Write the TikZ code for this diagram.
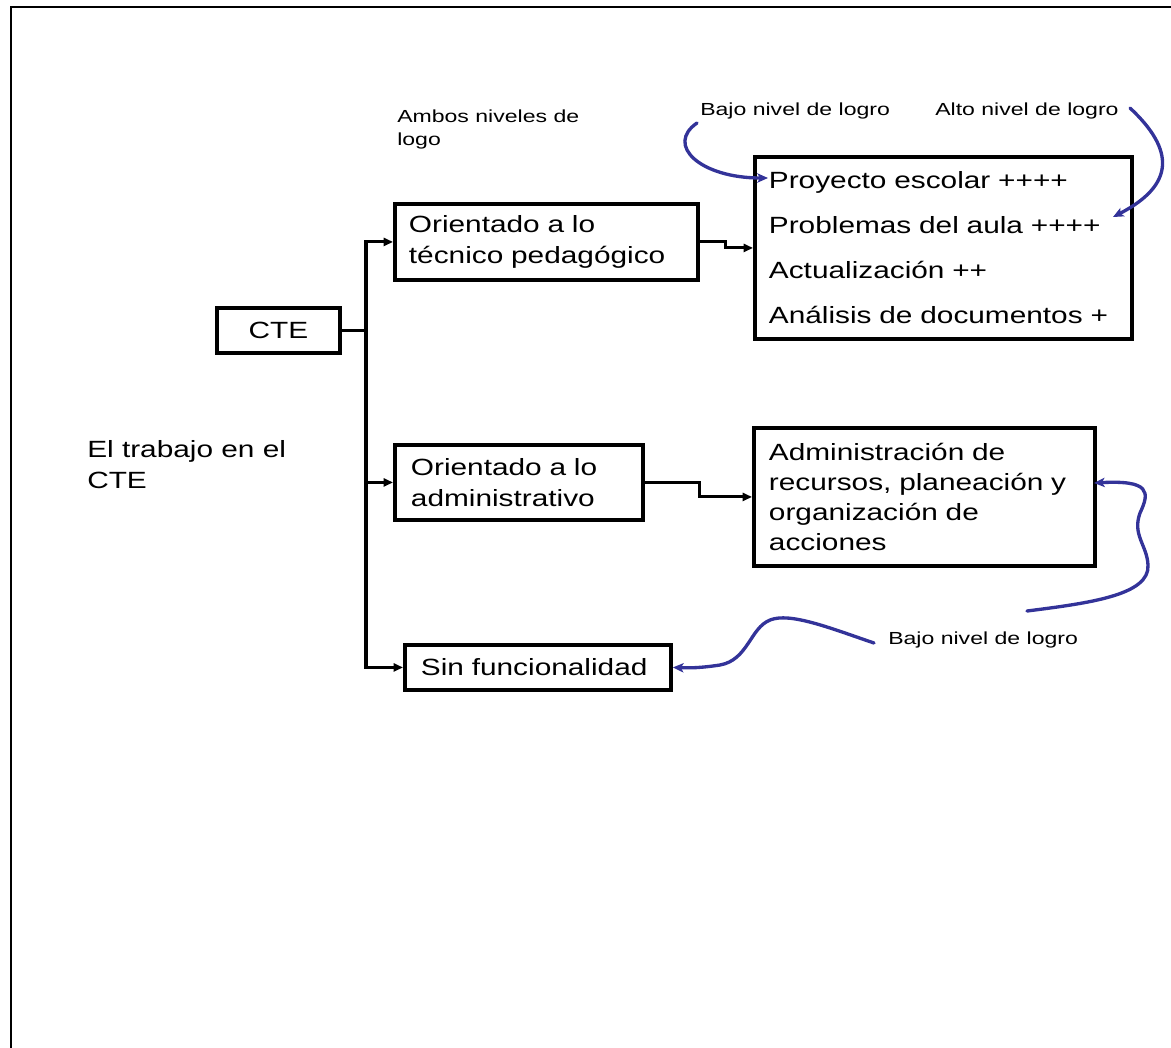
\documentclass[tikz,border=0pt]{standalone}
\usepackage{fontspec}
\setmainfont{Liberation Sans}[FakeStretch=1.27]
\newfontfamily\notefont{Liberation Sans}[FakeStretch=1.32]
\usetikzlibrary{arrows.meta}
\definecolor{note}{RGB}{51,51,153}

\begin{document}
\begin{tikzpicture}[x=0.75pt,y=-0.75pt,
  big/.style={font=\fontsize{17.6pt}{23.25pt}\selectfont},
  small/.style={font=\notefont\fontsize{13.1pt}{17pt}\selectfont},
  box/.style={draw, line width=2.9pt, inner sep=0pt, anchor=north west, align=left, big},
  conn/.style={line width=2.3pt, line join=miter},
  tip/.style={-{Triangle[length=7pt,width=6pt]}},
  note arrow/.style={draw=note, line width=2.5pt, line cap=round,
    -{Stealth[length=8pt,width=7pt,inset=2pt]}}]

\useasboundingbox (0,0) rectangle (1171,1047);
\clip (0,0) rectangle (1171,1047);

% page frame, open to the right and bottom
\draw[line width=2pt] (1180,7) -| (11,1060);

% boxes
\node[box, align=center, minimum width=92.25pt, minimum height=33.75pt] (cte) at (215,306) {CTE};
\node[box, minimum width=227.25pt, minimum height=57pt, text width=206.25pt] (tech) at (393,202)
  {Orientado a lo\\técnico pedagógico};
\node[box, minimum width=282.75pt, minimum height=136.5pt, text width=261.75pt,
  font=\fontsize{17.6pt}{33.75pt}\selectfont] (logros) at (753,155)
  {Proyecto escolar ++++\\Problemas del aula ++++\\Actualización ++\\Análisis de documentos +};
\node[box, minimum width=186pt, minimum height=56.25pt, text width=162pt] (adm) at (393,443)
  {Orientado a lo\\administrativo};
\node[box, minimum width=255.75pt, minimum height=103.5pt, text width=233.25pt,
  font=\fontsize{17.6pt}{22.5pt}\selectfont] (recursos) at (752,426)
  {Administración de\\recursos, planeación y\\organización de\\acciones};
\node[box, minimum width=199.5pt, minimum height=33.75pt, text width=175.5pt] (sin) at (403,643)
  {Sin funcionalidad};

% free labels
\node[big, anchor=north west, inner sep=0pt, align=left] (titulo) at (87,440) {El trabajo en el\\CTE};
\node[small, anchor=north west, inner sep=0pt, align=left] (ambos) at (397,110) {Ambos niveles de\\logo};
\node[small, anchor=base west, inner sep=0pt] (bajoA) at (700,115) {Bajo nivel de logro};
\node[small, anchor=base west, inner sep=0pt] (alto) at (935,115) {Alto nivel de logro};
\node[small, anchor=base west, inner sep=0pt] (bajoB) at (888,644) {Bajo nivel de logro};

% tree connectors
\coordinate (tr) at (366,0);
\draw[conn] (cte.east) -- (cte.east -| tr);
\draw[conn, tip] (cte.east -| tr) |- (tech.west);
\draw[conn, tip] (cte.east -| tr) |- (sin.west);
\draw[conn, tip] (adm.west -| tr) -- (adm.west);
\draw[conn, tip] (tech.east) -- ++(26,0) |- (logros.west);
\draw[conn, tip] (adm.east) -- ++(55,0) |- (recursos.west);

% blue annotation arrows
\coordinate (bajoAs) at (697,123);
\coordinate (bajoAe) at (768,178);
\draw[note arrow] (bajoAs) .. controls (665,145) and (700,178) .. (bajoAe);

\coordinate (altos) at (1130,108);
\coordinate (altoe) at (1113,217);
\draw[note arrow] (altos) .. controls (1175,150) and (1175,185) .. (altoe);

\coordinate (bajoBs) at (1027,611);
\coordinate (bajoBe) at (1094,483);
\draw[note arrow] (bajoBs) .. controls (1090,603) and (1150,595) .. (1148,565)
  .. controls (1147,545) and (1132,535) .. (1140,513)
  .. controls (1150,492) and (1150,480) .. (bajoBe);

\coordinate (bajoCs) at (874,643);
\draw[note arrow] (bajoCs) .. controls (830,628) and (790,612) .. (770,620)
  .. controls (750,628) and (748,660) .. (720,665)
  .. controls (700,668) and (690,668) .. (sin.east);
\end{tikzpicture}
\end{document}
